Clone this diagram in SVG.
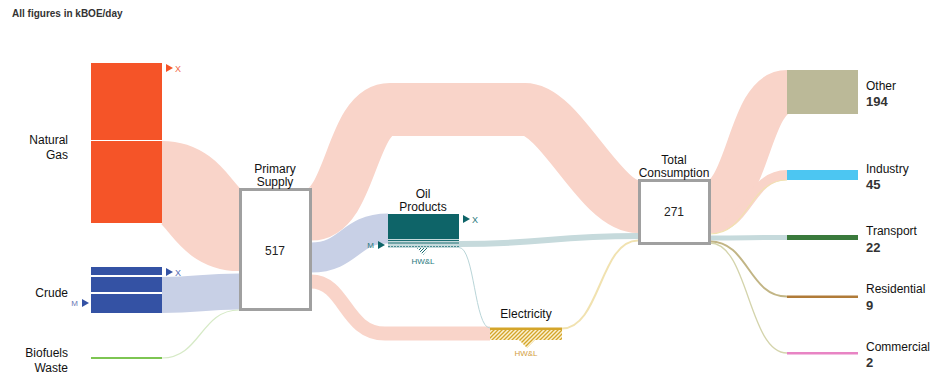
<svg xmlns="http://www.w3.org/2000/svg" width="935" height="375" viewBox="0 0 935 375">
<style>
text{font-family:"Liberation Sans",Arial,Helvetica,sans-serif;fill:#111;}
.lbl{font-size:12px;}
.num{font-size:13px;font-weight:bold;fill:#333;}
.ttl{font-size:12px;text-anchor:middle;}
.val{font-size:12px;text-anchor:middle;fill:#222;}
.mk{font-size:9px;}
.small{font-size:8px;text-anchor:middle;}
.box{fill:#fff;stroke:#a0a0a0;stroke-width:3;}
.flow{fill:none;}
.pink{stroke:#f9d4c9;}
.blue{stroke:#c8d0e6;}
.oil{stroke:#c6dadc;}
.elec{stroke:#f1e2b0;}
</style>
<defs>
<pattern id="hatchE" patternUnits="userSpaceOnUse" width="4" height="4">
<rect width="4" height="4" fill="#fbf1d0"/>
<path d="M-1,1 l2,-2 M0,4 l4,-4 M3,5 l2,-2" stroke="#d4a52a" stroke-width="1.3"/>
</pattern>
<pattern id="hatchO" patternUnits="userSpaceOnUse" width="3" height="3">
<path d="M-1,1 l2,-2 M0,3 l3,-3 M2,4 l2,-2" stroke="#1b6e72" stroke-width="1"/>
</pattern>
</defs>
<text x="12" y="17" style="font-size:10px;font-weight:bold;fill:#333;">All figures in kBOE/day</text>

<g id="connectors">
<path class="flow pink" stroke-width="83" d="M162,182.5 C200.5,182.5 200.5,229.5 239,229.5"/>
<path class="flow blue" stroke-width="36" d="M162,295 C200.5,295 200.5,291.5 239,291.5"/>
<path class="flow" stroke="#d6eac6" stroke-width="1.2" d="M162,358 C200.5,358 200.5,310 239,310"/>
<path class="flow pink" stroke-width="53" d="M311,214 C351,214 351,109.5 390,109.5 L525,109.5 C560,109.5 600,206.5 638,206.5"/>
<path class="flow blue" stroke-width="30" d="M311,257.5 C349.5,257.5 349.5,228.5 388,228.5"/>
<path class="flow pink" stroke-width="14" d="M311,281.5 C345,281.5 345,333.5 385,333.5 L490,333.5"/>
<path class="flow oil" stroke-width="6" d="M459,244 C548,244 548,236 638,236"/>
<path class="flow" stroke="#b9d5d8" stroke-width="1" d="M459,247.5 C474.5,247.5 474.5,328 490,328"/>
<path class="flow elec" stroke-width="2" d="M562,328.5 C600,328.5 600,240.5 638,240.5"/>
<path class="flow pink" stroke-width="44" d="M710,202 C748.5,202 748.5,92 787,92"/>
<path class="flow pink" stroke-width="10" d="M710,228.5 C748.5,228.5 748.5,175 787,175"/>
<path class="flow elec" stroke-width="1.2" d="M710,234 C748.5,234 748.5,180 787,180"/>
<path class="flow oil" stroke-width="5" d="M710,238 C748.5,238 748.5,237.5 787,237.5"/>
<path class="flow" stroke="#c2b585" stroke-width="2" d="M710,241.5 C748.5,241.5 748.5,296.5 787,296.5"/>
<path class="flow" stroke="#d4d4ac" stroke-width="1.3" d="M710,243 C748.5,243 748.5,353 787,353"/>
</g>

<g id="natural-gas">
<rect x="91" y="63" width="71" height="77" fill="#f55428"/>
<rect x="91" y="141" width="71" height="82" fill="#f55428"/>
<path d="M166,64 L173,68 L166,72 Z" fill="#f55428"/>
<text x="175" y="71.5" class="mk" style="fill:#f26a4a;">X</text>
<text x="68" y="144" class="lbl" text-anchor="end">Natural</text>
<text x="68" y="159" class="lbl" text-anchor="end">Gas</text>
</g>

<g id="crude">
<rect x="91" y="267" width="71" height="8" fill="#3452a4"/>
<rect x="91" y="277" width="71" height="15" fill="#3452a4"/>
<rect x="91" y="294" width="71" height="19" fill="#3452a4"/>
<path d="M166,268 L173,272 L166,276 Z" fill="#3452a4"/>
<text x="175" y="275.5" class="mk" style="fill:#5a6fb5;">X</text>
<path d="M82,299 L89,303 L82,307 Z" fill="#3452a4"/>
<text x="78" y="306" class="mk" text-anchor="end" style="fill:#6a78b5;font-size:8px;">M</text>
<text x="68" y="297" class="lbl" text-anchor="end">Crude</text>
</g>

<g id="biofuels-waste">
<rect x="91" y="357" width="71" height="2" fill="#7dc552"/>
<text x="68" y="357" class="lbl" text-anchor="end">Biofuels</text>
<text x="68" y="372" class="lbl" text-anchor="end">Waste</text>
</g>

<g id="primary-supply">
<rect x="240.5" y="189.5" width="70" height="120" class="box"/>
<text x="275" y="173" class="ttl">Primary</text>
<text x="275" y="185.5" class="ttl">Supply</text>
<text x="275" y="255" class="val">517</text>
</g>

<g id="oil-products">
<rect x="388" y="214" width="71" height="25" fill="#0e6468"/>
<rect x="388" y="239" width="71" height="9" fill="#c6dadc"/>
<line x1="388" y1="240.5" x2="459" y2="240.5" stroke="#1b6e72" stroke-width="1"/>
<line x1="388" y1="243" x2="459" y2="243" stroke="#1b6e72" stroke-width="1"/>
<line x1="388" y1="246.5" x2="459" y2="246.5" stroke="#4a8e92" stroke-width="1" stroke-dasharray="2,1"/>
<path d="M417,248 L429,248 L423,255 Z" fill="url(#hatchO)"/>
<path d="M463,215 L470,219 L463,223 Z" fill="#0e6468"/>
<text x="472" y="222.5" class="mk" style="fill:#2a7a7e;">X</text>
<path d="M378,241 L385,245 L378,249 Z" fill="#0e6468"/>
<text x="374" y="248" class="mk" text-anchor="end" style="fill:#2a7a7e;font-size:8px;">M</text>
<text x="423" y="198" class="ttl">Oil</text>
<text x="423" y="211" class="ttl">Products</text>
<text x="423" y="264" class="small" style="fill:#2a7a7e;">HW&amp;L</text>
</g>

<g id="electricity">
<rect x="490" y="330" width="72" height="10" fill="url(#hatchE)"/>
<rect x="490" y="327.5" width="72" height="2.5" fill="#d4a52a"/>
<path d="M519,340 L535,340 L527,348 Z" fill="url(#hatchE)"/>
<text x="526" y="318" class="ttl">Electricity</text>
<text x="526" y="356" class="small" style="fill:#d4a040;">HW&amp;L</text>
</g>

<g id="total-consumption">
<rect x="639.5" y="180.5" width="70" height="63" class="box"/>
<text x="674" y="164" class="ttl">Total</text>
<text x="674" y="177" class="ttl">Consumption</text>
<text x="674" y="216" class="val">271</text>
</g>

<g id="other">
<rect x="787" y="70" width="71" height="44" fill="#bbb998"/>
<text x="866" y="90" class="lbl">Other</text>
<text x="866" y="106" class="num">194</text>
</g>
<g id="industry">
<rect x="787" y="170" width="71" height="10" fill="#4cc6f2"/>
<text x="866" y="173" class="lbl">Industry</text>
<text x="866" y="189" class="num">45</text>
</g>
<g id="transport">
<rect x="787" y="235" width="71" height="5" fill="#3a7a3c"/>
<text x="866" y="235" class="lbl">Transport</text>
<text x="866" y="252" class="num">22</text>
</g>
<g id="residential">
<rect x="787" y="295.5" width="71" height="2.5" fill="#b07b38"/>
<text x="866" y="293" class="lbl">Residential</text>
<text x="866" y="310" class="num">9</text>
</g>
<g id="commercial">
<rect x="787" y="352" width="71" height="2.5" fill="#e884c4"/>
<text x="866" y="351" class="lbl">Commercial</text>
<text x="866" y="367" class="num">2</text>
</g>
</svg>
